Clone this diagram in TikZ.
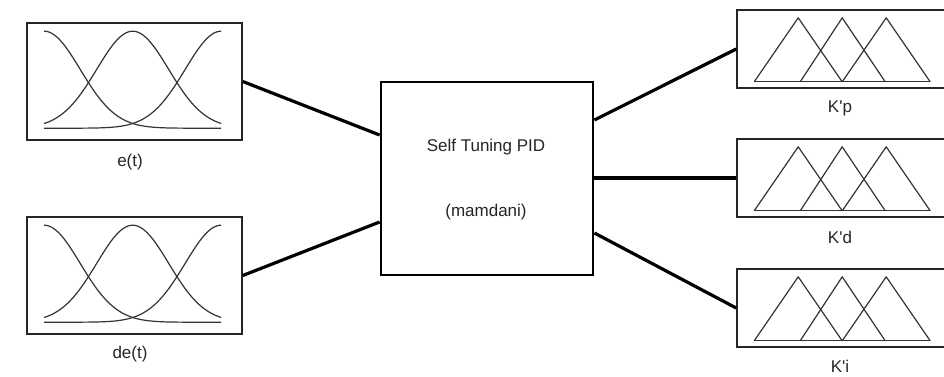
\documentclass[tikz,border=0pt]{standalone}
\usepackage{fontspec}
\newfontfamily\lbfont{Liberation Sans}
\usetikzlibrary{calc}
\newcommand\mytris[1]{%
  \begin{scope}[shift={(#1.south west)}]
    \draw[mfcurve] (18,-7) -- (62,-71) -- (106,-7);
    \draw[mfcurve] (64,-7) -- (106,-71) -- (149,-7);
    \draw[mfcurve] (106,-7) -- (150,-71) -- (194,-7);
    \draw[mfcurve] (18,-7) -- (194,-7);
  \end{scope}}
\newcommand\mygauss[1]{%
  \begin{scope}[shift={(#1.north west)}]
    \draw[mfcurve] plot[domain=18:195, samples=90, smooth] (\x, {106-97*exp(-0.5*(\x-18)/36*(\x-18)/36)});
    \draw[mfcurve] plot[domain=18:195, samples=90, smooth] (\x, {106-97*exp(-0.5*(\x-106.5)/36*(\x-106.5)/36)});
    \draw[mfcurve] plot[domain=18:195, samples=90, smooth] (\x, {106-97*exp(-0.5*(\x-195)/36*(\x-195)/36)});
  \end{scope}}
\begin{document}
\begin{tikzpicture}[x=1pt,y=-1pt,
  mfbox/.style={draw=black!85, line width=1.6pt, fill=white, rectangle, inner sep=0pt},
  outbox/.style={mfbox, minimum width=223pt, minimum height=78pt},
  inbox/.style={mfbox, minimum width=215pt, minimum height=117pt},
  mfcurve/.style={draw=black!80, line width=1.2pt, line join=round},
  lbl/.style={font=\lbfont\fontsize{17}{19}\selectfont, text=black!85, inner sep=0pt},
  conn/.style={line width=3.2pt, black}]
\useasboundingbox (0,0) rectangle (944,376);
\fill[white] (0,0) rectangle (944,376);
\clip (0,0) rectangle (944,376);

% input boxes
\node[inbox] (et) at (134.5,81.5) {};
\node[inbox] (det) at (134.5,275.5) {};
\node[lbl] (etl) at (130,162) {e(t)};
\node[lbl] (detl) at (130,354) {de(t)};
\mygauss{et}
\mygauss{det}

% central box
\node[draw=black, line width=2.8pt, fill=white, minimum width=212pt, minimum height=193pt, inner sep=0pt] (pid) at (487,178.5) {};
\node[lbl] (t1) at (486,147) {Self Tuning PID};
\node[lbl] (t2) at (486,212) {(mamdani)};

% output boxes
\node[outbox] (kp) at (848.5,49) {};
\node[outbox] (kd) at (848.5,178) {};
\node[outbox] (ki) at (848.5,308) {};
\node[lbl] (kpl) at (840,108) {K'p};
\node[lbl] (kdl) at (840,237) {K'd};
\node[lbl] (kil) at (840,366) {K'i};
\mytris{kp}
\mytris{kd}
\mytris{ki}

% connectors
\draw[conn] (et.east) -- ([yshift=43.5pt]pid.west);
\draw[conn] (det.east) -- ([yshift=-43.5pt]pid.west);
\draw[conn] ([yshift=58.5pt]pid.east) -- (kp.west);
\draw[conn] ([yshift=0.5pt]pid.east) -- (kd.west);
\draw[conn] ([yshift=-54.5pt]pid.east) -- (ki.west);
\end{tikzpicture}
\end{document}
